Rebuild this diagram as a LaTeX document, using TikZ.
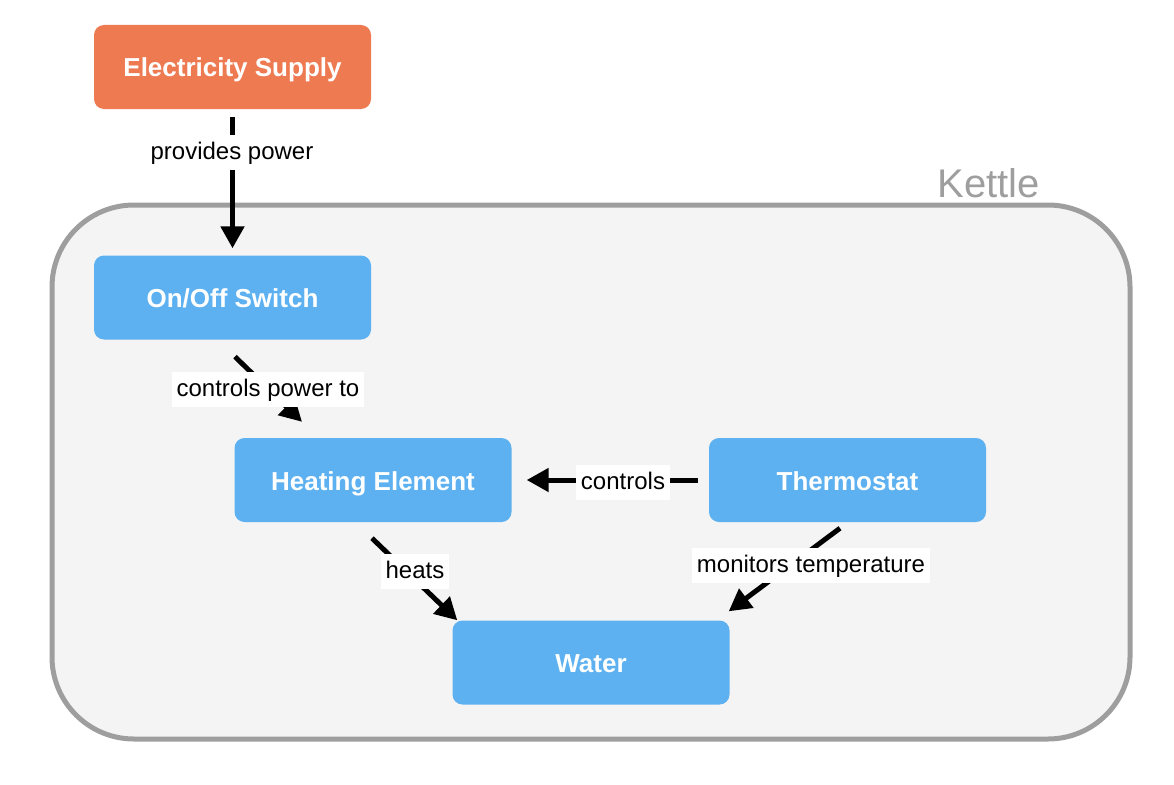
\documentclass[tikz,border=0pt]{standalone}
\usepackage{fontspec}
\setmainfont{Liberation Sans}
\usetikzlibrary{calc,arrows.meta}
\definecolor{nodeblue}{HTML}{5DB1F0}
\definecolor{nodeorange}{HTML}{EE7A52}
\definecolor{kettlefill}{HTML}{F4F4F4}
\definecolor{kettleline}{HTML}{9E9E9E}
\tikzset{
  box/.style={rectangle, rounded corners=10pt, minimum width=277pt, minimum height=84pt,
    fill=nodeblue, text=white, font=\fontsize{26}{30}\selectfont\bfseries, inner sep=0pt,
    text height=20pt, text depth=0pt},
  arr/.style={line width=5pt, -{Triangle[length=22pt,width=23pt]}},
  lbl/.style={fill=white, text=black, font=\fontsize{24}{28}\selectfont,
    inner xsep=4.5pt, inner ysep=7pt, text height=18pt, text depth=3pt}
}
\begin{document}
\begin{tikzpicture}[x=1pt,y=-1pt]
\useasboundingbox (0,0) rectangle (1174,784);
% container
\draw[line width=5pt, draw=kettleline, fill=kettlefill, rounded corners=82pt]
  (52,205) rectangle (1130,739);
\node[anchor=base east, inner sep=0pt, text=kettleline, font=\fontsize{40}{44}\selectfont] (kt) at (1040,197) {Kettle};
% nodes
\node[box, fill=nodeorange] (es) at (232.5,67) {Electricity Supply};
\node[box] (sw) at (232.5,297.5) {On/Off Switch};
\node[box] (he) at (373,480) {Heating Element};
\node[box] (th) at (847.5,480) {Thermostat};
\node[box] (wa) at (591,662.5) {Water};
% connectors
\draw[arr] ($(es.south)+(0,8)$) -- ($(sw.north)+(0,-7)$);
\draw[arr] ($(sw.south)+(2.5,17)$) -- ($(he.north)+(-71,-16)$);
\draw[arr] ($(th.west)+(-11,0)$) -- ($(he.east)+(15,0)$);
\draw[arr] ($(he.south)+(-1,16)$) -- ($(wa.north west)+(5,0)$);
\draw[arr] ($(th.south)+(-7.5,6)$) -- ($(wa.north east)+(-1,-9)$);
% labels
\node[lbl] (l1) at (232,152) {provides power};
\node[lbl] (l2) at (268,389) {controls power to};
\node[lbl] (l3) at (623,482) {controls};
\node[lbl] (l4) at (415,571) {heats};
\node[lbl] (l5) at (811,565) {monitors temperature};
\end{tikzpicture}
\end{document}
